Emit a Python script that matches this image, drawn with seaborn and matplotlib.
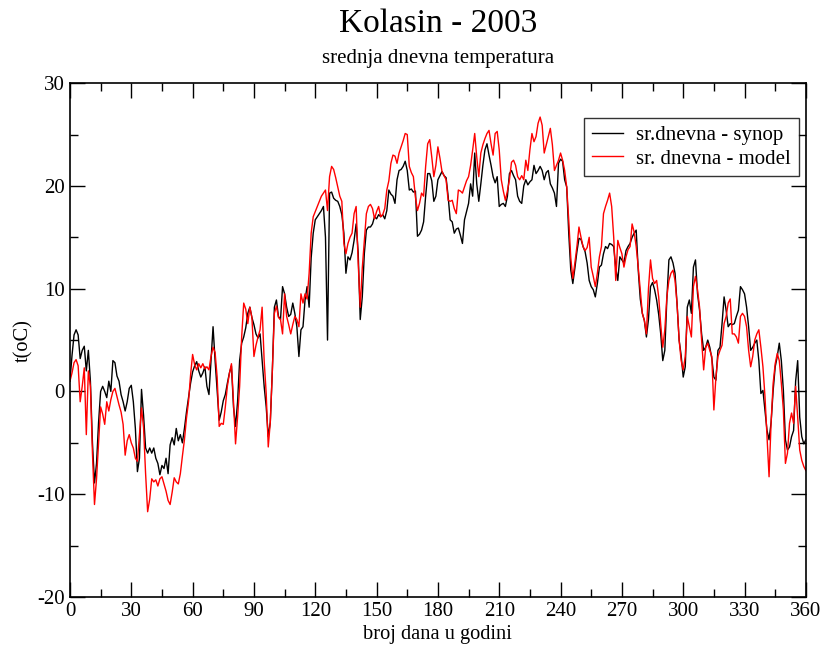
#!/usr/bin/env python3

import numpy as np
import pandas as pd
import seaborn as sns
from matplotlib import pyplot as plt
from matplotlib.ticker import MultipleLocator

# srednja dnevna temperatura, dan 0..360
synop = [
    1.0, 3.5, 5.5, 6.0, 5.5, 3.2, 4.0, 4.4, 2.0, 4.0,
    1.0, -5.0, -8.9, -7.0, -3.0, 0.0, 0.5, 0.0, -0.6, 1.0,
    0.0, 3.0, 2.8, 1.5, 1.0, -0.3, -1.0, -1.9, -1.0, 0.3,
    0.6, -1.0, -3.6, -7.8, -6.5, 0.2, -2.3, -5.5, -6.0, -5.5,
    -6.0, -5.5, -6.5, -7.0, -8.1, -7.2, -7.5, -6.5, -8.0, -5.2,
    -4.5, -5.2, -3.6, -4.8, -4.2, -5.0, -3.6, -2.0, -0.6, 0.8,
    1.9, 2.5, 2.9, 2.0, 1.4, 1.8, 2.4, 0.5, -0.3, 3.0,
    6.3, 3.0, 0.1, -2.8, -2.0, -0.9, -0.3, 0.8, 1.8, 2.5,
    -1.5, -3.4, -1.0, 3.0, 4.7, 5.3, 6.2, 7.6, 8.2, 7.2,
    6.5, 5.6, 5.2, 5.6, 3.0, 0.5, -1.5, -4.4, -3.0, 2.0,
    8.2, 8.9, 7.3, 7.0, 10.2, 9.5, 8.2, 7.3, 7.5, 8.6,
    7.6, 6.3, 3.4, 6.0, 6.3, 8.9, 10.2, 8.2, 13.0, 15.4,
    16.7, 17.0, 17.3, 17.6, 18.0, 15.0, 5.0, 19.3, 19.4, 18.8,
    18.6, 18.5, 18.0, 17.2, 15.4, 11.5, 13.1, 12.8, 13.5, 14.7,
    16.3, 13.5, 7.0, 9.2, 13.4, 15.7, 16.0, 16.0, 16.3, 17.0,
    16.8, 17.2, 17.0, 17.2, 16.8, 17.6, 19.6, 19.2, 19.0, 18.3,
    20.6, 21.5, 21.6, 21.9, 22.4, 21.5, 19.6, 19.7, 19.4, 19.5,
    15.1, 15.3, 15.7, 16.5, 19.0, 21.2, 21.2, 20.5, 18.5, 19.0,
    20.6, 21.0, 21.4, 21.0, 20.8, 19.0, 16.7, 16.5, 15.4, 15.8,
    15.9, 15.2, 14.4, 16.7, 17.5, 18.3, 20.2, 19.0, 23.2, 20.2,
    18.5, 20.2, 22.0, 23.5, 24.1, 23.0, 22.0, 20.9, 20.3, 20.9,
    18.0, 18.2, 18.3, 18.0, 19.0, 21.2, 21.5, 21.0, 20.6, 19.0,
    18.5, 18.3, 20.0, 20.6, 20.1, 20.4, 20.6, 22.0, 21.2, 21.5,
    21.9, 21.5, 20.6, 21.3, 21.5, 20.2, 19.8, 19.3, 18.0, 22.2,
    22.6, 22.4, 20.6, 19.9, 15.4, 11.8, 10.5, 12.0, 13.6, 14.9,
    14.8, 14.1, 13.6, 12.5, 10.8, 10.2, 9.9, 9.2, 10.5, 12.1,
    12.3, 13.4, 14.1, 13.9, 14.4, 14.3, 14.1, 12.0, 10.8, 13.1,
    12.8, 12.5, 13.7, 14.1, 14.4, 15.0, 15.4, 15.7, 11.8, 9.0,
    7.6, 6.9, 5.3, 7.0, 10.2, 10.6, 9.9, 8.9, 7.5, 5.6,
    3.0, 4.0, 9.0, 12.8, 13.1, 12.5, 11.5, 8.5, 5.0, 3.5,
    1.4, 2.4, 8.2, 8.9, 7.6, 12.1, 12.8, 9.5, 7.9, 5.6,
    4.0, 4.3, 5.0, 4.3, 3.2, 1.4, 1.1, 4.0, 4.3, 6.6,
    9.2, 7.9, 6.3, 6.6, 6.5, 6.6, 7.3, 7.9, 10.2, 9.9,
    9.5, 8.2, 6.3, 4.0, 4.3, 4.7, 5.0, 3.0, -0.2, 0.1,
    -1.8, -3.8, -4.7, -3.0, 0.1, 2.4, 3.4, 4.7, 3.0, 0.1,
    -4.7, -5.7, -5.4, -4.4, -3.8, 1.0, 3.0, -2.5, -4.4, -5.1,
    -4.7,
]

model = [
    1.0, 1.8, 2.8, 3.1, 2.5, -1.0, 0.5, 2.3, -4.2, 2.0,
    0.5, -6.0, -11.0, -8.5, -5.0, -1.5, -2.2, -3.2, -1.0, -1.9,
    -0.8, 0.0, 0.3, -0.5, -1.3, -2.0, -3.2, -6.2, -4.8, -4.2,
    -5.0, -5.5, -6.5, -6.8, -4.2, -1.6, -3.5, -8.0, -11.7, -10.5,
    -8.5, -8.8, -8.6, -9.2, -8.5, -8.3, -9.0, -9.7, -10.6, -11.0,
    -9.8, -8.4, -8.8, -9.0, -8.0, -6.3, -4.7, -2.6, -1.0, 1.6,
    3.6, 2.6, 2.1, 2.7, 2.3, 2.7, 2.2, 2.4, 2.1, 3.4,
    4.3, 3.8, 1.4, -3.4, -3.1, -3.2, -1.5, 0.5, 1.75, 2.7,
    -1.0, -5.1, -2.5, 0.5, 5.3, 8.6, 8.0, 6.6, 8.2, 7.2,
    3.4, 4.5, 5.3, 6.0, 8.2, 3.0, -0.2, -5.4, -3.0, 2.0,
    7.6, 8.3, 7.2, 7.0, 5.6, 9.5, 7.3, 6.5, 5.6, 6.5,
    7.3, 7.0, 6.3, 9.5, 8.6, 9.5, 9.0, 11.5, 15.4, 17.0,
    17.5, 18.0, 18.5, 19.0, 19.3, 19.6, 17.6, 20.9, 21.9, 21.6,
    20.8, 19.9, 19.0, 18.5, 14.4, 13.4, 14.4, 15.0, 15.4, 17.3,
    18.0, 12.5, 8.2, 12.0, 14.7, 17.3, 18.0, 18.2, 17.8, 16.8,
    17.5, 18.0, 17.0, 17.2, 17.8, 19.6, 20.5, 22.2, 23.0, 22.9,
    22.2, 23.2, 23.8, 24.4, 25.1, 25.0, 21.9, 21.3, 20.9, 18.9,
    17.6, 18.3, 19.3, 19.0, 21.9, 24.1, 24.5, 22.8, 20.9, 22.0,
    23.8, 22.7, 21.4, 21.0, 20.6, 18.6, 18.5, 18.6, 17.8, 17.3,
    19.6, 19.5, 19.3, 19.9, 20.5, 20.9, 22.0, 23.5, 25.1, 22.8,
    20.9, 23.2, 24.0, 24.6, 25.1, 25.4, 24.1, 23.0, 25.1, 25.3,
    23.5, 20.6, 19.5, 18.6, 19.5, 20.6, 22.3, 22.5, 22.0, 20.9,
    20.6, 21.0, 20.6, 22.5, 21.5, 23.5, 25.1, 24.3, 24.8, 26.1,
    26.7, 25.9, 23.2, 24.0, 24.8, 25.6, 24.0, 21.5, 22.0, 22.5,
    23.2, 22.5, 21.5, 19.9, 16.7, 13.0, 11.0, 12.5, 14.1, 16.0,
    15.0, 14.1, 13.7, 14.0, 15.0, 12.1, 11.2, 10.2, 11.5, 13.1,
    14.1, 17.3, 18.0, 18.6, 19.3, 18.0, 15.0, 10.8, 14.7, 14.0,
    13.4, 12.1, 13.1, 13.8, 14.1, 16.3, 15.5, 14.1, 12.1, 9.9,
    7.6, 6.9, 5.6, 10.0, 12.8, 11.0, 10.5, 10.8, 9.2, 6.5,
    4.3, 6.0, 9.2, 10.8, 11.5, 11.8, 10.8, 8.5, 5.0, 3.0,
    2.1, 3.4, 7.3, 6.3, 5.3, 10.2, 11.2, 9.9, 8.2, 5.0,
    2.1, 4.3, 4.7, 4.0, 3.4, -1.8, 1.4, 3.4, 4.0, 4.5,
    6.6, 7.3, 8.6, 9.0, 5.6, 5.6, 5.3, 4.7, 7.3, 7.6,
    7.3, 6.3, 4.0, 2.4, 3.4, 5.0, 5.6, 6.0, 4.3, 2.4,
    -0.5, -4.4, -8.3, -3.0, 0.8, 2.7, 3.7, 3.0, 0.8, -1.8,
    -7.0, -6.0, -3.1, -2.1, -3.1, 0.5, -2.5, -5.7, -6.7, -7.3,
    -7.7,
]

series_names = ["sr.dnevna - synop", "sr. dnevna - model"]
colors = ["black", "red"]

plt.rcParams['font.family'] = ['Liberation Serif', 'DejaVu Serif']
plt.rcParams['axes.unicode_minus'] = False


def build_frame():
    days = np.arange(len(synop))
    df = pd.concat([
        pd.DataFrame({"dan": days, "t": synop, "serija": series_names[0]}),
        pd.DataFrame({"dan": days, "t": model, "serija": series_names[1]}),
    ])
    return df


def plot_data(df):
    fig = plt.figure(figsize=(8.25, 6.48), dpi=100)
    ax = fig.add_axes([0.0848, 0.0787, 0.892, 0.793])

    sns.lineplot(data=df, x="dan", y="t", hue="serija",
                 palette=dict(zip(series_names, colors)),
                 linewidth=1.0, ax=ax)

    ax.set_xlim(0, 360)
    ax.set_ylim(-20, 30)
    ax.xaxis.set_major_locator(MultipleLocator(30))
    ax.xaxis.set_minor_locator(MultipleLocator(15))
    ax.yaxis.set_major_locator(MultipleLocator(10))
    ax.yaxis.set_minor_locator(MultipleLocator(5))
    ax.tick_params(which="both", direction="in", top=True, right=True,
                   labelsize=15, width=1.0, color="black")
    ax.tick_params(which="major", length=11)
    ax.tick_params(which="minor", length=6)
    for spine in ax.spines.values():
        spine.set_linewidth(1.2)

    ax.set_xlabel("broj dana u godini", fontsize=14.7, labelpad=3)
    ax.set_ylabel("t(oC)", fontsize=14.7, labelpad=3)

    leg = ax.legend(loc="upper right", bbox_to_anchor=(0.990, 0.932),
                    borderaxespad=0, fontsize=15, frameon=True,
                    fancybox=False, handlelength=1.5, borderpad=0.35,
                    labelspacing=0.2, handletextpad=0.65)
    leg.get_frame().set_edgecolor("black")
    leg.get_frame().set_linewidth(1.0)

    fig.text(0.531, 0.964, "Kolasin - 2003", ha="center", va="center",
             fontsize=24)
    fig.text(0.531, 0.910, "srednja dnevna temperatura", ha="center",
             va="center", fontsize=15)

    fig.savefig("out.png", dpi=100)


def main():
    df = build_frame()
    plot_data(df)


if __name__ == "__main__":
    main()
